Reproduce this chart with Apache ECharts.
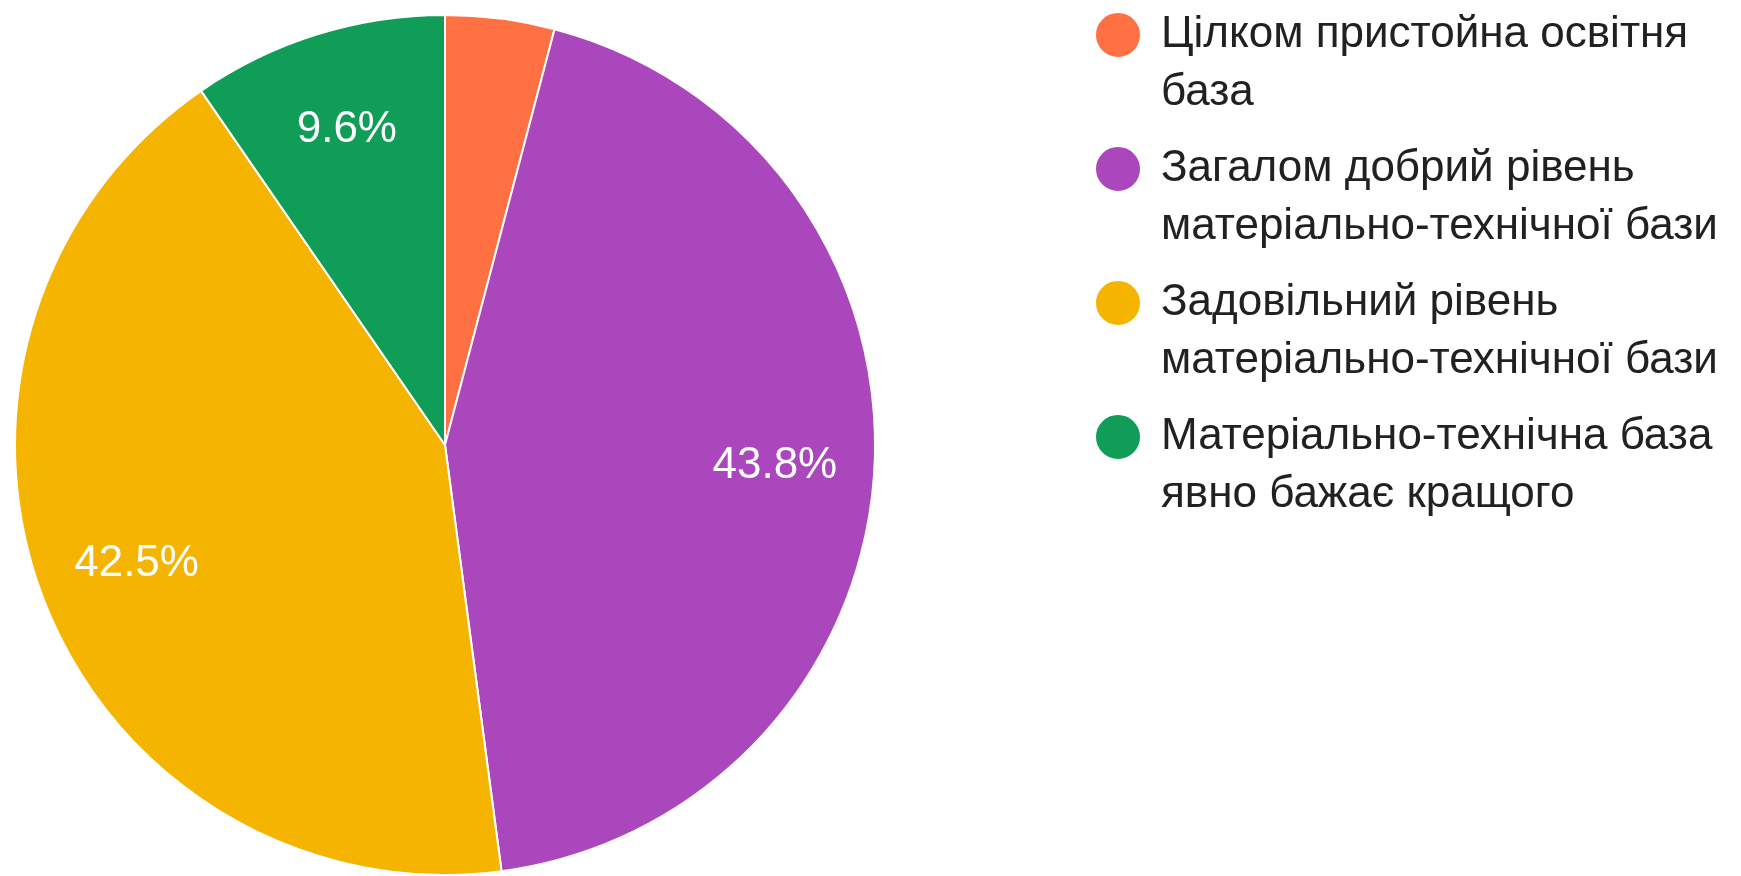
<!DOCTYPE html>
<html>
<head>
<meta charset="utf-8">
<script src="https://cdn.jsdelivr.net/npm/echarts@6/dist/echarts.min.js"></script>
<style>
  html, body { margin: 0; padding: 0; background: #fff; }
  #chart { width: 1741px; height: 876px; }
</style>
</head>
<body>
<div id="chart"></div>
<script>
var categories = [
    'Цілком пристойна освітня\nбаза',
    'Загалом добрий рівень\nматеріально-технічної бази',
    'Задовільний рівень\nматеріально-технічної бази',
    'Матеріально-технічна база\nявно бажає кращого'
];
var shares = [4.1, 43.8, 42.5, 9.6];
var colors = ['#ff7043', '#ab47bc', '#f4b400', '#0f9d58'];

var pieData = [];
var labelData = [];
for (var i = 0; i < categories.length; i++) {
    pieData.push({ name: categories[i], value: shares[i] });
    labelData.push({
        name: categories[i],
        value: shares[i],
        // the smallest slice has no label in the original
        label: { show: shares[i] >= 5 }
    });
}

var chart = echarts.init(document.getElementById('chart'));
chart.setOption({
    animation: false,
    color: colors,
    legend: {
        orient: 'vertical',
        left: 1094,
        top: -52,
        padding: 0,
        itemGap: -40,
        itemWidth: 46,
        itemHeight: 46,
        icon: 'circle',
        data: categories,
        // empty first line so the icon lines up with the first text line
        formatter: function (name) { return '\n' + name; },
        textStyle: {
            fontFamily: 'Liberation Sans, Arial, sans-serif',
            fontSize: 44,
            lineHeight: 58,
            color: '#212121',
            padding: [0, 0, 0, 15]
        }
    },
    series: [
        {
            type: 'pie',
            center: [445, 445],
            radius: [0, 430],
            startAngle: 90,
            clockwise: true,
            data: pieData,
            label: { show: false },
            labelLine: { show: false },
            itemStyle: { borderColor: '#ffffff', borderWidth: 2 }
        },
        {
            // transparent ring only used to place the percentage labels
            type: 'pie',
            center: [445, 445],
            radius: [225, 430],
            startAngle: 90,
            clockwise: true,
            silent: true,
            data: labelData,
            itemStyle: { color: 'rgba(0,0,0,0)', borderWidth: 0 },
            labelLine: { show: false },
            label: {
                position: 'inside',
                formatter: function (p) { return p.value.toFixed(1) + '%'; },
                color: '#ffffff',
                fontFamily: 'Liberation Sans, Arial, sans-serif',
                fontSize: 44
            }
        }
    ]
});
</script>
</body>
</html>
